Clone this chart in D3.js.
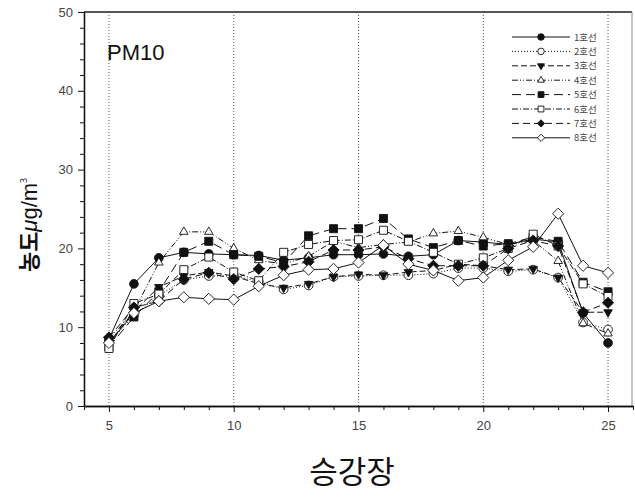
<!DOCTYPE html>
<html>
<head>
<meta charset="utf-8">
<script src="https://cdn.jsdelivr.net/npm/d3@7"></script>
<style>
  body { margin: 0; background: #fff; }
  svg { display: block; }
</style>
</head>
<body>
<svg></svg>
<script>
const width = 635;
const height = 501;

// stations on the x axis
const stations = [5, 6, 7, 8, 9, 10, 11, 12, 13, 14, 15, 16, 17, 18, 19, 20, 21, 22, 23, 24, 25];
const lineNames = ['1호선', '2호선', '3호선', '4호선', '5호선', '6호선', '7호선', '8호선'];

const line1 = [8.5, 15.5, 18.8, 19.5, 19.3, 19.2, 19.1, 18.5, 18.8, 19.2, 19.2, 19.3, 19.0, 19.2, 21.0, 20.8, 20.5, 21.2, 20.8, 11.8, 8.0];
const line2 = [8.0, 11.5, 14.0, 16.0, 16.5, 16.5, 15.8, 14.8, 15.3, 16.4, 16.5, 16.6, 16.6, 16.8, 17.5, 17.5, 17.1, 17.3, 16.3, 10.6, 9.7];
const line3 = [8.0, 12.0, 15.1, 16.5, 17.0, 16.5, 15.5, 15.0, 15.5, 16.4, 16.7, 16.6, 17.0, 17.2, 18.0, 17.8, 17.3, 17.4, 16.3, 11.9, 11.9];
const line4 = [8.5, 12.0, 18.2, 22.1, 22.1, 20.0, 18.5, 18.0, 19.0, 20.9, 20.1, 20.5, 20.8, 21.9, 22.2, 21.4, 20.5, 21.0, 18.4, 10.5, 9.2];
const line5 = [7.5, 11.3, 14.5, 19.5, 20.9, 19.2, 19.0, 18.2, 21.6, 22.5, 22.5, 23.8, 21.2, 20.1, 21.0, 20.3, 20.6, 21.4, 20.9, 15.7, 14.5];
const line6 = [7.3, 13.0, 14.2, 17.3, 18.9, 17.0, 15.9, 19.5, 20.5, 21.0, 21.1, 22.3, 20.9, 19.5, 18.0, 18.8, 20.0, 21.8, 20.3, 15.5, 13.9];
const line7 = [8.7, 12.5, 13.3, 16.1, 16.9, 16.1, 17.4, 17.7, 18.3, 19.8, 19.8, 20.2, 18.7, 17.8, 17.8, 17.8, 20.0, 21.0, 20.3, 11.9, 13.1];
const line8 = [8.0, 11.8, 13.3, 13.8, 13.6, 13.5, 15.2, 16.6, 17.3, 17.4, 18.2, 20.4, 18.0, 17.2, 15.9, 16.3, 18.5, 20.2, 24.4, 17.8, 16.9];

const yTicks = [0, 10, 20, 30, 40, 50];
const xTicks = [5, 10, 15, 20, 25];

const seriesValues = [line1, line2, line3, line4, line5, line6, line7, line8];

// how each line is drawn
const dashes = ['none', '1,2', '6,3', '6,2,1,2,1,2', '9,5', '6,2,1,2', '7,4', 'none'];
const shapes = ['circle', 'circle', 'triangleDown', 'triangle', 'square', 'square', 'diamond', 'diamond'];
const filled = [true, false, true, false, true, false, true, false];

const margin = { left: 84, right: 2, top: 12, bottom: 94 };

const svg = d3.select('svg')
  .attr('width', width)
  .attr('height', height)
  .style('font-family', 'Liberation Sans, Arial, sans-serif');

const x = d3.scaleLinear()
  .domain([4, 26])
  .range([margin.left, width - margin.right]);

const y = d3.scaleLinear()
  .domain([0, 50])
  .range([height - margin.bottom - 1, margin.top]);

// dotted vertical grid
svg.append('g')
  .selectAll('line')
  .data(xTicks)
  .join('line')
  .attr('x1', d => x(d))
  .attr('x2', d => x(d))
  .attr('y1', y(0))
  .attr('y2', y(50))
  .attr('stroke', '#555')
  .attr('stroke-width', 1)
  .attr('stroke-dasharray', '1,2');

// top and right frame
svg.append('line')
  .attr('x1', x(4)).attr('x2', x(26) - 1)
  .attr('y1', y(50)).attr('y2', y(50))
  .attr('stroke', '#555')
  .attr('stroke-width', 2);
svg.append('line')
  .attr('x1', x(26) - 1).attr('x2', x(26) - 1)
  .attr('y1', y(50)).attr('y2', y(0))
  .attr('stroke', '#888')
  .attr('stroke-width', 1);

// axes
svg.append('g')
  .attr('transform', `translate(${x(4)},0)`)
  .call(d3.axisLeft(y).tickValues(yTicks).tickSize(6).tickSizeOuter(0).tickPadding(5));
svg.append('g')
  .attr('transform', `translate(${x(4)},0)`)
  .call(d3.axisLeft(y).tickValues(d3.range(0, 51, 2).filter(d => d % 10 !== 0)).tickSize(4).tickSizeOuter(0).tickFormat(''));

svg.append('g')
  .attr('transform', `translate(0,${y(0)})`)
  .call(d3.axisBottom(x).tickValues(xTicks).tickSize(6).tickSizeOuter(0).tickPadding(9));
svg.append('g')
  .attr('transform', `translate(0,${y(0)})`)
  .call(d3.axisBottom(x).tickValues(d3.range(4, 27).filter(d => d % 5 !== 0)).tickSize(4).tickSizeOuter(0).tickFormat(''));

svg.selectAll('.domain').attr('stroke', '#111').attr('stroke-width', 1.3);
svg.selectAll('.tick line').attr('stroke', '#111');
svg.selectAll('.tick text')
  .attr('fill', '#444')
  .style('font-size', '13px');

// marker symbols
const symbolFor = shape => {
  if (shape === 'circle') return d3.symbol(d3.symbolCircle, 60);
  if (shape === 'square') return d3.symbol(d3.symbolSquare, 64);
  if (shape === 'diamond') return d3.symbol(d3.symbolDiamond2, 80);
  return d3.symbol(d3.symbolTriangle2, 52);
};

const line = d3.line()
  .x((d, i) => x(stations[i]))
  .y(d => y(d));

seriesValues.forEach((values, k) => {
  svg.append('path')
    .datum(values)
    .attr('d', line)
    .attr('fill', 'none')
    .attr('stroke', '#111')
    .attr('stroke-width', 1)
    .attr('stroke-dasharray', dashes[k]);
});

seriesValues.forEach((values, k) => {
  svg.append('g')
    .selectAll('path')
    .data(values)
    .join('path')
    .attr('d', symbolFor(shapes[k]))
    .attr('transform', (d, i) => {
      const rot = shapes[k] === 'triangleDown' ? ' rotate(180)' : '';
      return `translate(${x(stations[i])},${y(d)})${rot}`;
    })
    .attr('fill', filled[k] ? '#111' : '#fff')
    .attr('stroke', '#111')
    .attr('stroke-width', 0.9);
});

// legend
const legend = svg.append('g')
  .attr('transform', 'translate(512,37)');

lineNames.forEach((name, k) => {
  const row = legend.append('g')
    .attr('transform', `translate(0,${k * 14.4})`);
  row.append('line')
    .attr('x1', 0).attr('x2', 58)
    .attr('y1', 0).attr('y2', 0)
    .attr('stroke', '#111')
    .attr('stroke-width', 1)
    .attr('stroke-dasharray', dashes[k]);
  row.append('path')
    .attr('d', symbolFor(shapes[k]).size(34))
    .attr('transform', `translate(29,0)${shapes[k] === 'triangleDown' ? ' rotate(180)' : ''}`)
    .attr('fill', filled[k] ? '#111' : '#fff')
    .attr('stroke', '#111')
    .attr('stroke-width', 0.9);
  row.append('text')
    .attr('x', 62)
    .attr('y', 3.5)
    .attr('fill', '#444')
    .style('font-family', 'Noto Sans CJK KR, sans-serif')
    .style('font-size', '9.5px')
    .text(name);
});

// labels
svg.append('text')
  .attr('x', 107)
  .attr('y', 60)
  .attr('fill', '#111')
  .style('font-size', '22px')
  .text('PM10');

const yTitle = svg.append('text')
  .attr('transform', 'translate(37,225) rotate(-90)')
  .attr('text-anchor', 'middle')
  .attr('fill', '#111')
  .style('font-family', 'Noto Sans CJK KR, sans-serif')
  .style('font-size', '22px');
yTitle.append('tspan').style('font-weight', 'bold').text('농도');
yTitle.append('tspan').style('font-family', 'Liberation Sans, Arial, sans-serif').style('font-style', 'italic').text('μ');
yTitle.append('tspan').style('font-family', 'Liberation Sans, Arial, sans-serif').text('g/m');
yTitle.append('tspan').attr('dy', -10).style('font-size', '9px').text('3');

svg.append('text')
  .attr('x', 352)
  .attr('y', 483)
  .attr('text-anchor', 'middle')
  .attr('fill', '#111')
  .style('font-family', 'Noto Sans CJK KR, sans-serif')
  .style('font-size', '31px')
  .text('승강장');
</script>
</body>
</html>
